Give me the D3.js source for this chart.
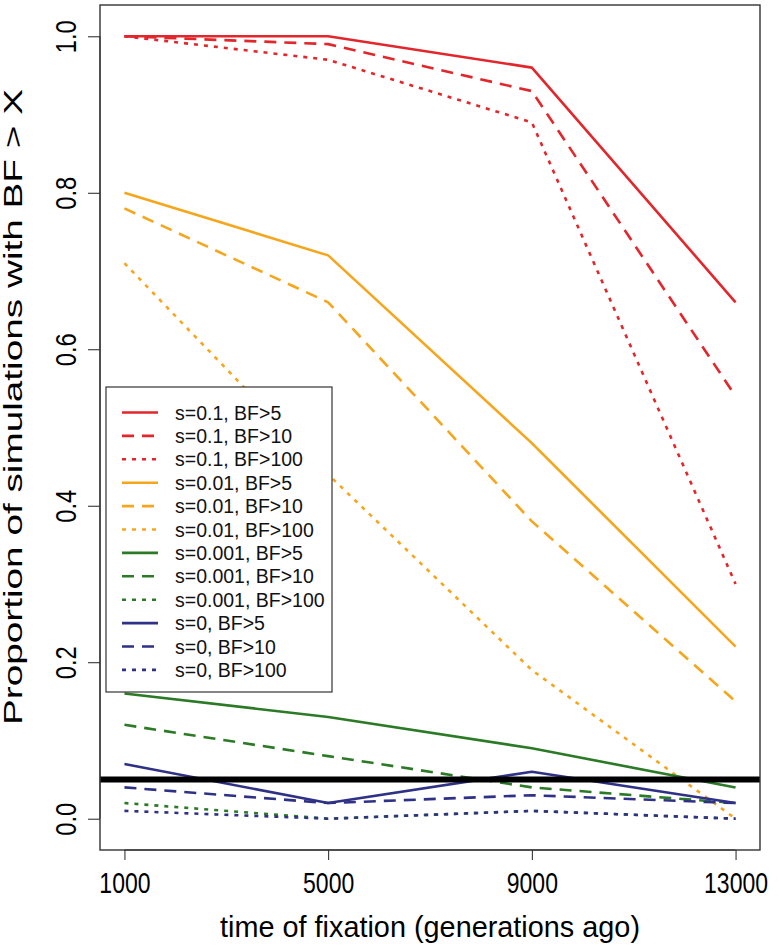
<!DOCTYPE html>
<html>
<head>
<meta charset="utf-8">
<script src="https://cdn.jsdelivr.net/npm/d3@7"></script>
<style>
  body { margin: 0; background: #fff; }
  svg { display: block; }
</style>
</head>
<body>
<div id="chart"></div>
<script>
// generations ago
const times = [1000, 5000, 9000, 13000]
const xTicks = [1000, 5000, 9000, 13000]
const yTicks = [0, 0.2, 0.4, 0.6, 0.8, 1.0]

// proportion of simulations with BF > X, one array per line
const s01_bf5 = [1.0, 1.0, 0.96, 0.66]
const s01_bf10 = [1.0, 0.99, 0.93, 0.54]
const s01_bf100 = [1.0, 0.97, 0.89, 0.3]
const s001_bf5 = [0.8, 0.72, 0.48, 0.22]
const s001_bf10 = [0.78, 0.66, 0.38, 0.15]
const s001_bf100 = [0.71, 0.44, 0.19, 0.0]
const s0001_bf5 = [0.16, 0.13, 0.09, 0.04]
const s0001_bf10 = [0.12, 0.08, 0.04, 0.02]
const s0001_bf100 = [0.02, 0.0, 0.01, 0.0]
const s0_bf5 = [0.07, 0.02, 0.06, 0.02]
const s0_bf10 = [0.04, 0.02, 0.03, 0.02]
const s0_bf100 = [0.01, 0.0, 0.01, 0.0]

const threshold = 0.05

const labels = [
  's=0.1, BF>5', 's=0.1, BF>10', 's=0.1, BF>100',
  's=0.01, BF>5', 's=0.01, BF>10', 's=0.01, BF>100',
  's=0.001, BF>5', 's=0.001, BF>10', 's=0.001, BF>100',
  's=0, BF>5', 's=0, BF>10', 's=0, BF>100'
]
const values = [
  s01_bf5, s01_bf10, s01_bf100,
  s001_bf5, s001_bf10, s001_bf100,
  s0001_bf5, s0001_bf10, s0001_bf100,
  s0_bf5, s0_bf10, s0_bf100
]

const red = '#e2262b'
const orange = '#f6a61c'
const green = '#2b7a25'
const navy = '#2f3187'
const colors = [red, red, red, orange, orange, orange, green, green, green, navy, navy, navy]
// solid / dashed / dotted, like R lty 1,2,3
const dashes = [null, '12,8', '4,6']

const W = 780
const H = 950
const plot = { left: 100, right: 760, top: 5, bottom: 850 }

const svg = d3
  .select('#chart')
  .append('svg')
  .attr('width', W)
  .attr('height', H)

svg.append('rect').attr('width', W).attr('height', H).attr('fill', '#fff')

/// scales, R style 4% padding ////
const xPad = (d3.max(times) - d3.min(times)) * 0.04
const xScale = d3
  .scaleLinear()
  .domain([d3.min(times) - xPad, d3.max(times) + xPad])
  .range([plot.left, plot.right])
const yScale = d3
  .scaleLinear()
  .domain([-0.04, 1.04])
  .range([plot.bottom, plot.top])

svg
  .append('clipPath')
  .attr('id', 'clip')
  .append('rect')
  .attr('x', plot.left)
  .attr('y', plot.top)
  .attr('width', plot.right - plot.left)
  .attr('height', plot.bottom - plot.top)

/// lines ////
const line = d3
  .line()
  .x((d, i) => xScale(times[i]))
  .y(d => yScale(d))

const lineG = svg.append('g').attr('clip-path', 'url(#clip)')

lineG
  .selectAll('path')
  .data(values)
  .enter()
  .append('path')
  .attr('d', d => line(d))
  .attr('fill', 'none')
  .attr('stroke', (d, i) => colors[i])
  .attr('stroke-width', 2.6)
  .attr('stroke-dasharray', (d, i) => dashes[i % 3])
  .attr('stroke-linejoin', 'round')

// threshold line
lineG
  .append('line')
  .attr('x1', plot.left)
  .attr('x2', plot.right)
  .attr('y1', yScale(threshold))
  .attr('y2', yScale(threshold))
  .attr('stroke', '#000')
  .attr('stroke-width', 6)

/// axes ////
const xAxis = svg
  .append('g')
  .attr('transform', 'translate(0,' + plot.bottom + ')')
  .call(
    d3
      .axisBottom(xScale)
      .tickValues(xTicks)
      .tickSize(10)
      .tickPadding(0)
      .tickFormat(d3.format('d'))
  )
xAxis.select('.domain').attr('stroke', '#222').attr('d', 'M' + xScale(xTicks[0]) + ',0H' + xScale(xTicks[3]))
xAxis.selectAll('.tick line').attr('stroke', '#222')
xAxis
  .selectAll('.tick text')
  .attr('y', 43)
  .attr('dy', null)
  .attr('fill', '#000')
  .attr('font-size', 30)
  .attr('textLength', d => String(d).length * 12.8)
  .attr('lengthAdjust', 'spacingAndGlyphs')
  .attr('font-family', "'Liberation Sans', sans-serif")

const yAxis = svg
  .append('g')
  .attr('transform', 'translate(' + plot.left + ',0)')
  .call(
    d3
      .axisLeft(yScale)
      .tickValues(yTicks)
      .tickSize(12)
      .tickFormat(d3.format('.1f'))
  )
yAxis.select('.domain').attr('stroke', '#222').attr('d', 'M0,' + yScale(0) + 'V' + yScale(1))
yAxis.selectAll('.tick line').attr('stroke', '#222')
yAxis
  .selectAll('.tick text')
  .attr('x', null)
  .attr('dy', null)
  .attr('text-anchor', 'middle')
  .attr('transform', 'translate(-24,0) rotate(-90)')
  .attr('fill', '#000')
  .attr('font-size', 29)
  .attr('textLength', 33)
  .attr('lengthAdjust', 'spacingAndGlyphs')
  .attr('font-family', "'Liberation Sans', sans-serif")

// plot box
svg
  .append('rect')
  .attr('x', plot.left)
  .attr('y', plot.top)
  .attr('width', plot.right - plot.left)
  .attr('height', plot.bottom - plot.top)
  .attr('fill', 'none')
  .attr('stroke', '#333')
  .attr('stroke-width', 1.4)

/// titles ////
svg
  .append('text')
  .text('time of fixation (generations ago)')
  .attr('x', (plot.left + plot.right) / 2)
  .attr('y', 937)
  .attr('text-anchor', 'middle')
  .attr('font-size', 30)
  .attr('textLength', 420)
  .attr('lengthAdjust', 'spacingAndGlyphs')
  .attr('font-family', "'Liberation Sans', sans-serif")

svg
  .append('text')
  .text('Proportion of simulations with BF > X')
  .attr('transform', 'translate(22,' + 407 + ') rotate(-90)')
  .attr('text-anchor', 'middle')
  .attr('font-size', 25)
  .attr('textLength', 636)
  .attr('lengthAdjust', 'spacingAndGlyphs')
  .attr('font-family', "'Liberation Sans', sans-serif")

/// legend ////
const legend = { x: 106, y: 387, w: 226, h: 305, row: 23.4, first: 25.5 }
const lg = svg.append('g').attr('transform', 'translate(' + legend.x + ',' + legend.y + ')')

lg.append('rect')
  .attr('width', legend.w)
  .attr('height', legend.h)
  .attr('fill', '#fff')
  .attr('stroke', '#333')
  .attr('stroke-width', 1.2)

const rows = lg
  .selectAll('.legend-row')
  .data(labels)
  .enter()
  .append('g')
  .attr('class', 'legend-row')
  .attr('transform', (d, i) => 'translate(0,' + (legend.first + i * legend.row) + ')')

rows
  .append('line')
  .attr('x1', 16)
  .attr('x2', 52)
  .attr('stroke', (d, i) => colors[i])
  .attr('stroke-width', 2.6)
  .attr('stroke-dasharray', (d, i) => dashes[i % 3])

rows
  .append('text')
  .text(d => d)
  .attr('x', 69)
  .attr('y', 7)
  .attr('font-size', 19.5)
  .attr('fill', '#111')
  .attr('font-family', "'Liberation Sans', sans-serif")
</script>
</body>
</html>
